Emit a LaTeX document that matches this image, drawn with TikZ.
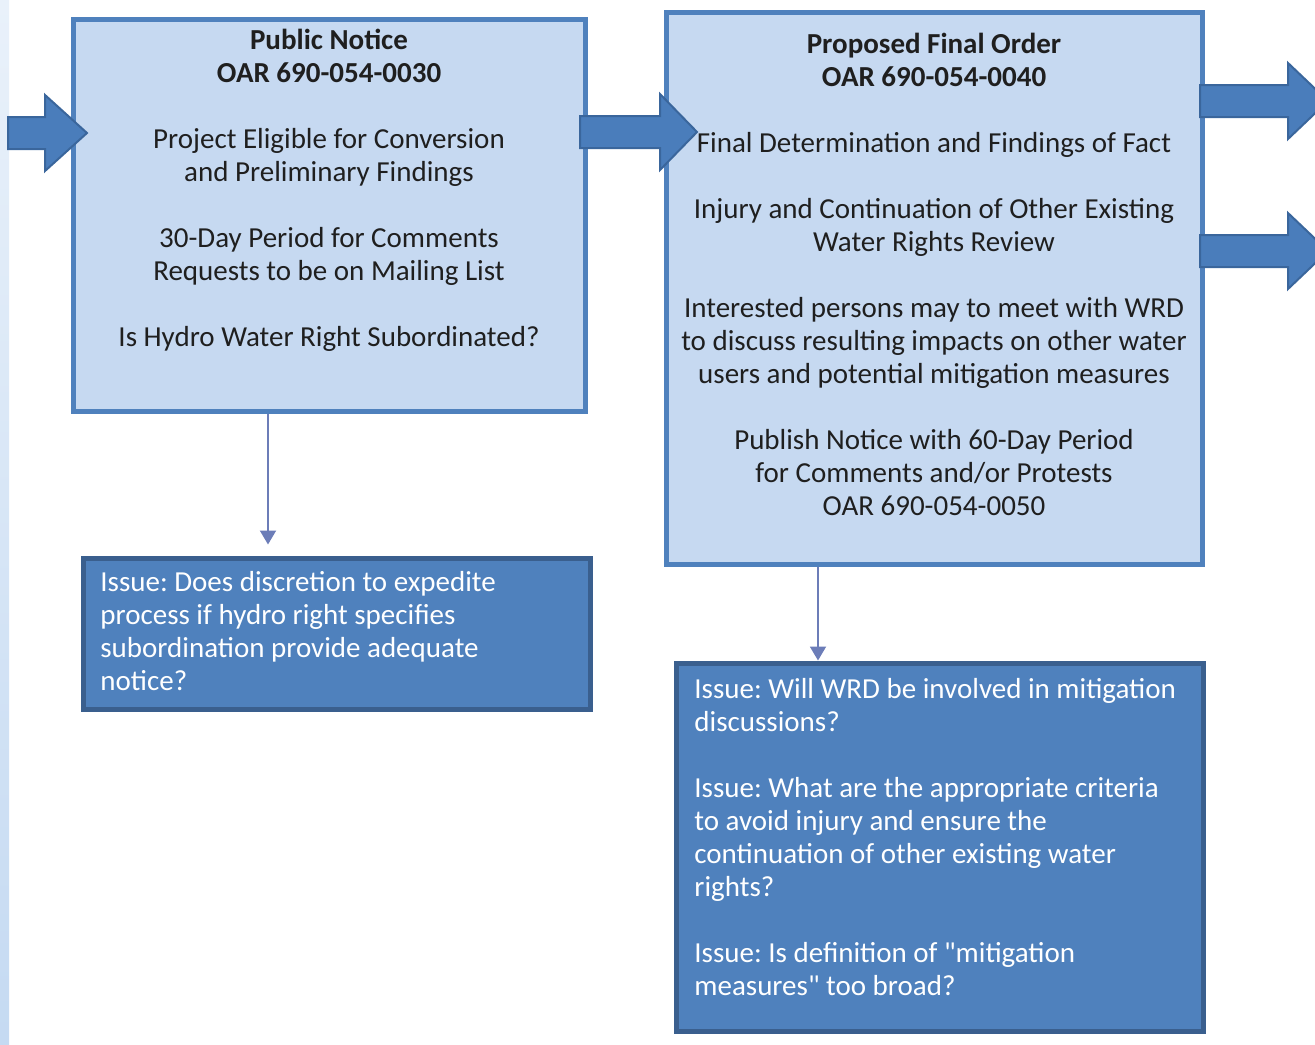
\documentclass[tikz,border=0pt]{standalone}
\usepackage{fontspec}
\setmainfont{Carlito}
\usepackage{tikz}
\usetikzlibrary{arrows.meta}
\usepackage{color}
\frenchspacing

\definecolor{boxfill}{HTML}{C6D9F1}
\definecolor{boxline}{HTML}{4F81BD}
\definecolor{issuefill}{HTML}{4F81BD}
\definecolor{issueline}{HTML}{3A5F8E}
\definecolor{arrowfill}{HTML}{4A7DBB}
\definecolor{arrowline}{HTML}{3A669C}
\definecolor{linkline}{HTML}{6C7DB8}
\definecolor{striptop}{HTML}{E9F1FA}
\definecolor{stripbot}{HTML}{C5DAF2}

\tikzset{
  stepbox/.style={draw=boxline, fill=boxfill, line width=2.5pt, inner sep=0pt},
  issuebox/.style={draw=issueline, fill=issuefill, line width=2.5pt, inner sep=0pt},
  boxtext/.style={align=center, inner sep=0pt, text=black!88, font=\fontsize{14.5pt}{16.5pt}\selectfont},
  issuetext/.style={align=left, inner sep=0pt, text=white, font=\fontsize{14.5pt}{16.5pt}\selectfont},
  blockarrow/.style={fill=arrowfill, draw=arrowline, line width=1pt, line join=miter},
  link/.style={draw=linkline, line width=1pt, -{Triangle[width=8pt,length=7pt]}}
}

\begin{document}
\begin{tikzpicture}[x=0.5pt,y=-0.5pt]
\useasboundingbox (0,0) rectangle (1315,1044);
\clip (0,0) rectangle (1315,1044);
\fill[top color=striptop, bottom color=stripbot] (0,0) rectangle (9,1044); % edit here for the side strip

% the two steps
\node[stepbox, minimum width=256pt, minimum height=196pt] (pn) at (329,215) {};
\node[boxtext, anchor=north] (pntext) at (329,29) {\textbf{Public Notice}\\ \textbf{OAR 690-054-0030}\\[16.5pt]
Project Eligible for Conversion\\ and Preliminary Findings\\[16.5pt]
30-Day Period for Comments\\ Requests to be on Mailing List\\[16.5pt]
Is Hydro Water Right Subordinated?};

\node[stepbox, minimum width=268pt, minimum height=276pt] (pfo) at (934,288) {};
\node[boxtext, anchor=north] (pfotext) at (934,33) {\textbf{Proposed Final Order}\\ \textbf{OAR 690-054-0040}\\[16.5pt]
Final Determination and Findings of Fact\\[16.5pt]
Injury and Continuation of Other Existing\\ Water Rights Review\\[16.5pt]
Interested persons may to meet with WRD\\ to discuss resulting impacts on other water\\ users and potential mitigation measures\\[16.5pt]
Publish Notice with 60-Day Period\\ for Comments and/or Protests\\ OAR 690-054-0050};

% the issues
\node[issuebox, minimum width=253.5pt, minimum height=75.5pt] (iss1) at (336.5,633.5) {};
\node[issuetext, anchor=north west] (iss1text) at (100,571) {Issue: Does discretion to expedite\\ process if hydro right specifies\\ subordination provide adequate\\ notice?};

\node[issuebox, minimum width=263.5pt, minimum height=184pt] (iss2) at (939.5,847) {};
\node[issuetext, anchor=north west] (iss2text) at (694,678) {Issue: Will WRD be involved in mitigation\\ discussions?\\[16.5pt]
Issue: What are the appropriate criteria\\ to avoid injury and ensure the\\ continuation of other existing water\\ rights?\\[16.5pt]
Issue: Is definition of \textquotedbl mitigation\\ measures\textquotedbl{} too broad?};

% edit here for the block arrows: start / head base / tip / middle
\foreach \xs/\xb/\xt/\yc in {8/45/87/133, 580/660/697/132, 1200/1288/1328/101, 1200/1288/1328/251}
\draw[blockarrow] (\xs,\yc-16) -- (\xb,\yc-16) -- (\xb,\yc-38) -- (\xt,\yc) -- (\xb,\yc+38) -- (\xb,\yc+16) -- (\xs,\yc+16) -- cycle;

% thin links down to the issues
\coordinate (d1) at ([xshift=-30.5pt]pn.south);
\coordinate (d2) at ([xshift=-58pt]pfo.south);
\draw[link, shorten >=5.5pt] (d1) -- (d1 |- iss1.north);
\draw[link] (d2) -- (d2 |- iss2.north);
\end{tikzpicture}
\end{document}
